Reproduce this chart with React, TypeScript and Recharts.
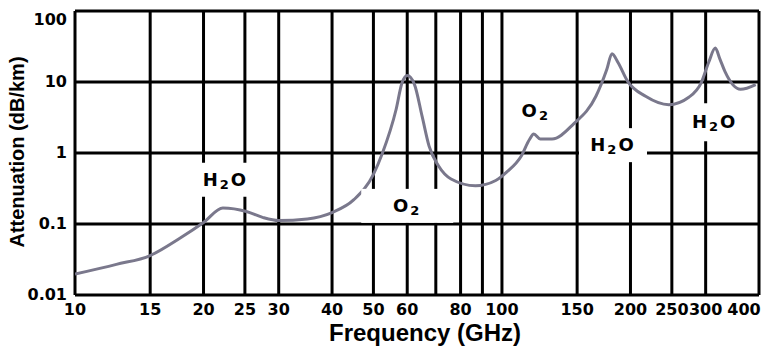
import { LineChart, Line, XAxis, YAxis, CartesianGrid, ReferenceDot } from "recharts";

// attenuation curve (GHz, dB/km)
const freqGHz = [
  10, 12.5, 15, 17.6, 20, 22.2, 25.2, 27.5, 30, 35, 40, 45, 50, 52.5, 56.5, 58.3, 60, 62.4, 65,
  67.5, 71, 76, 86.7, 96.7, 103, 111, 116, 118.7, 123, 131, 147, 166, 176, 181, 187, 197, 217,
  246, 274, 293, 305, 316, 324, 333, 362, 393,
];
const attenuation = [
  0.0197, 0.027, 0.036, 0.063, 0.105, 0.168, 0.15, 0.124, 0.112, 0.118, 0.145, 0.22, 0.5, 1.0,
  4.1, 9.6, 12.3, 9.2, 3.3, 1.25, 0.66, 0.43, 0.345, 0.41, 0.55, 0.91, 1.55, 1.85, 1.57, 1.57,
  2.55, 6.3, 15, 25, 18.8, 10.2, 6.3, 4.8, 6.1, 9.8, 19, 30, 21, 14, 7.9, 9.2,
];

// gridlines at every tick, labels only where the picture prints them
const xTicks = [10, 15, 20, 25, 30, 40, 50, 60, 70, 80, 90, 100, 150, 200, 250, 300, 400];
const xTickLabels = ["10", "15", "20", "25", "30", "40", "50", "60", "", "80", "", "100", "150", "200", "250", "300", "400"];
const yTicks = [0.01, 0.1, 1, 10, 100];
const yTickLabels = ["0.01", "0.1", "1", "10", "100"];

// absorption labels: molecule, frequency, attenuation at label centre
const labelMolecule = ["H2O", "O2", "O2", "H2O", "H2O"];
const labelFreq = [22.5, 60, 120, 182, 315];
const labelValue = [0.42, 0.18, 3.87, 1.29, 2.71];
// white box behind each label (w, h), 0 = no box
const labelBoxW = [62, 92, 0, 68, 58];
const labelBoxH = [34, 34, 0, 34, 38];

const data = freqGHz.map((f, i) => ({ f, a: attenuation[i] }));

const tickFont = "'DejaVu Sans', sans-serif";
const titleFont = "'Liberation Sans', Arial, sans-serif";

const XTick = (props: any) => {
  const { x, y, payload } = props;
  const idx = xTicks.indexOf(payload.value);
  const last = payload.value === 400;
  return (
    <text
      x={last ? x - 15 : x}
      y={y}
      dy={12}
      textAnchor="middle"
      fontFamily={tickFont}
      fontWeight="bold"
      fontSize={16}
      fill="#000"
    >
      {xTickLabels[idx]}
    </text>
  );
};

const YTick = (props: any) => {
  const { x, y, payload } = props;
  const idx = yTicks.indexOf(payload.value);
  const top = payload.value === 100;
  return (
    <text
      x={x}
      y={y}
      dy={top ? 14 : 5}
      textAnchor="end"
      fontFamily={tickFont}
      fontWeight="bold"
      fontSize={16}
      fill="#000"
    >
      {yTickLabels[idx]}
    </text>
  );
};

const makeLabel = (i: number) => (props: any) => {
  const { cx, cy } = props;
  const mol = labelMolecule[i];
  const w = labelBoxW[i];
  const h = labelBoxH[i];
  return (
    <g>
      {w > 0 && <rect x={cx - w / 2} y={cy - h / 2} width={w} height={h} fill="#fff" />}
      <text
        x={cx}
        y={cy}
        dy={6}
        textAnchor="middle"
        fontFamily={tickFont}
        fontWeight="bold"
        fontSize={18}
        letterSpacing={2}
        fill="#000"
      >
        {mol === "H2O" ? (
          <>
            H<tspan fontSize={13} dy={3}>2</tspan>
            <tspan dy={-3}>O</tspan>
          </>
        ) : (
          <>
            O<tspan fontSize={13} dy={3}>2</tspan>
          </>
        )}
      </text>
    </g>
  );
};

export default function App() {
  return (
    <div style={{ position: "absolute", left: 0, top: 0, width: 764, height: 347 }}>
      <LineChart
        width={764}
        height={347}
        data={data}
        margin={{ top: 11, right: 5, bottom: 0, left: 0 }}
      >
        <CartesianGrid stroke="#000" strokeWidth={3} strokeOpacity={1} />
        <XAxis
          dataKey="f"
          type="number"
          scale="log"
          domain={[10, 400]}
          ticks={xTicks}
          interval={0}
          allowDataOverflow
          tickLine={false}
          axisLine={false}
          height={52}
          tick={<XTick />}
        />
        <YAxis
          type="number"
          scale="log"
          domain={[0.01, 100]}
          ticks={yTicks}
          interval={0}
          allowDataOverflow
          tickLine={false}
          axisLine={false}
          width={75}
          tick={<YTick />}
        />
        {labelMolecule.map((_, i) => (
          <ReferenceDot
            key={i}
            x={labelFreq[i]}
            y={labelValue[i]}
            r={0}
            shape={makeLabel(i)}
          />
        ))}
        <Line
          type="monotone"
          dataKey="a"
          stroke="#7a788c"
          strokeWidth={3}
          dot={false}
          isAnimationActive={false}
        />
      </LineChart>
      <svg
        width={764}
        height={347}
        style={{ position: "absolute", left: 0, top: 0, pointerEvents: "none" }}
      >
        <text
          x={425}
          y={341}
          textAnchor="middle"
          fontFamily={titleFont}
          fontWeight="bold"
          fontSize={24}
          fill="#000"
        >
          Frequency (GHz)
        </text>
        <text
          x={24}
          y={152}
          transform="rotate(-90 24 152)"
          textAnchor="middle"
          fontFamily={titleFont}
          fontWeight="bold"
          fontSize={20}
          fill="#000"
        >
          Attenuation (dB/km)
        </text>
      </svg>
    </div>
  );
}
